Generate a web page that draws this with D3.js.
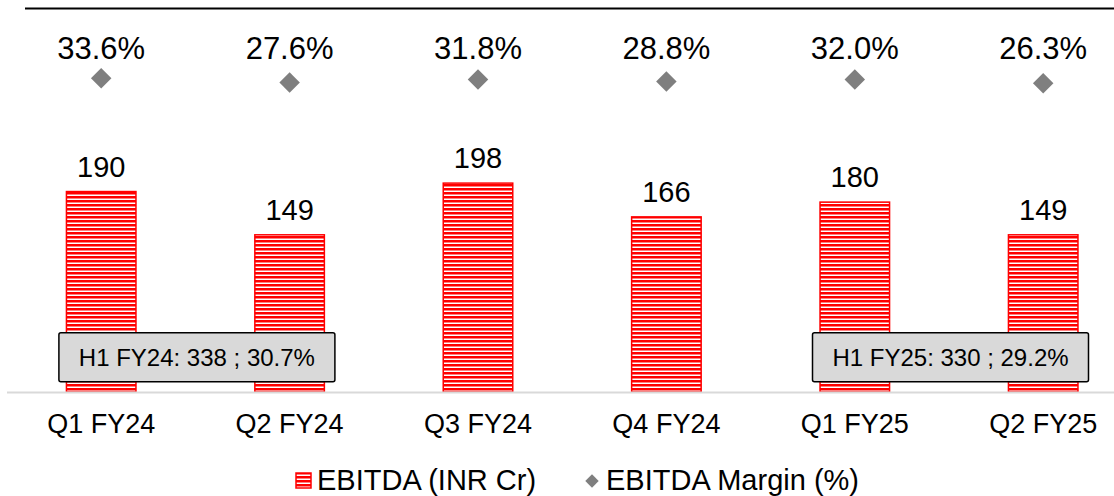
<!DOCTYPE html>
<html>
<head>
<meta charset="utf-8">
<script src="https://cdn.jsdelivr.net/npm/d3@7/dist/d3.min.js"></script>
<style>
  html, body { margin: 0; padding: 0; background: #fff; }
  svg { display: block; font-family: "Liberation Sans", Arial, sans-serif; }
</style>
</head>
<body>
<svg id="chart" width="1114" height="496"></svg>
<script>
// ---- data ----
const categories = ["Q1 FY24", "Q2 FY24", "Q3 FY24", "Q4 FY24", "Q1 FY25", "Q2 FY25"];
const ebitda = [190, 149, 198, 166, 180, 149];
const margin = [33.6, 27.6, 31.8, 28.8, 32.0, 26.3];
const marginLabels = ["33.6%", "27.6%", "31.8%", "28.8%", "32.0%", "26.3%"];
const callouts = [
  { text: "H1 FY24: 338 ; 30.7%", from: "Q1 FY24", to: "Q2 FY24" },
  { text: "H1 FY25: 330 ; 29.2%", from: "Q1 FY25", to: "Q2 FY25" }
];
const legendItems = ["EBITDA (INR Cr)", "EBITDA Margin (%)"];

// ---- setup ----
const svg = d3.select("#chart");
const W = 1114, H = 496;
const RED = "#ff0000", GRAY = "#7f7f7f";

const x = d3.scaleBand().domain(categories).range([7, 1137.4])
  .paddingInner(0.623).paddingOuter(0.3115);
const y = d3.scaleLinear().domain([0, 200]).range([392, 181]);
const y2 = d3.scaleLinear().domain([26.3, 33.6]).range([83.3, 78.3]);
const cx = c => x(c) + x.bandwidth() / 2;

// pattern
const defs = svg.append("defs");
const pat = defs.append("pattern").attr("id", "stripes")
  .attr("patternUnits", "userSpaceOnUse").attr("width", 8).attr("height", 4);
pat.append("rect").attr("width", 8).attr("height", 4).attr("fill", "#fff");
pat.append("rect").attr("y", 0).attr("width", 8).attr("height", 2.5).attr("fill", RED);

// top rule
svg.append("line").attr("x1", 25).attr("x2", W).attr("y1", 8.5).attr("y2", 8.5)
  .attr("stroke", "#000").attr("stroke-width", 2);

// bars
svg.append("g").selectAll("rect").data(ebitda).join("rect")
  .attr("x", (d, i) => x(categories[i]) + 0.75)
  .attr("y", d => y(d))
  .attr("width", x.bandwidth() - 1.5)
  .attr("height", d => y(0) - y(d))
  .attr("fill", "url(#stripes)")
  .attr("stroke", RED).attr("stroke-width", 1.5);

// axis
const ax = svg.append("g").attr("transform", `translate(0,${y(0)})`)
  .call(d3.axisBottom(x).tickSize(0).tickPadding(22));
ax.select(".domain").remove();
ax.append("line").attr("x1", 7).attr("x2", W).attr("y1", 0.5).attr("y2", 0.5)
  .attr("stroke", "#d9d9d9").attr("stroke-width", 2);
ax.selectAll("text").attr("font-size", 27).attr("fill", "#000")
  .attr("font-family", "Liberation Sans, Arial, sans-serif");

// value labels
svg.append("g").selectAll("text").data(ebitda).join("text")
  .attr("x", (d, i) => cx(categories[i]))
  .attr("y", d => y(d) - 15)
  .attr("text-anchor", "middle").attr("font-size", 29).attr("fill", "#000")
  .text(d => d);

// margin diamonds
const sq = d3.symbol().type(d3.symbolSquare).size(210);
svg.append("g").selectAll("path").data(margin).join("path")
  .attr("d", sq)
  .attr("transform", (d, i) => `translate(${cx(categories[i])},${y2(d)}) rotate(45)`)
  .attr("fill", GRAY);

// margin labels
svg.append("g").selectAll("text").data(marginLabels).join("text")
  .attr("x", (d, i) => cx(categories[i]))
  .attr("y", 59)
  .attr("text-anchor", "middle").attr("font-size", 31).attr("fill", "#000")
  .text(d => d);

// callouts
const cw = 276, ch = 49;
callouts.forEach(c => {
  const mx = (cx(c.from) + cx(c.to)) / 2 + 1.5;
  const my = y(33);
  const g = svg.append("g");
  g.append("rect").attr("x", mx - cw / 2).attr("y", my - ch / 2)
    .attr("width", cw).attr("height", ch).attr("rx", 2)
    .attr("fill", "#d9d9d9").attr("stroke", "#000").attr("stroke-width", 1.5);
  g.append("text").attr("x", mx).attr("y", my + 8.5)
    .attr("text-anchor", "middle").attr("font-size", 24).attr("fill", "#000")
    .text(c.text);
});

// legend
const lg = svg.append("g");
lg.append("rect").attr("x", 296).attr("y", 473).attr("width", 15).attr("height", 15)
  .attr("fill", "url(#stripes)").attr("stroke", RED).attr("stroke-width", 1.5);
lg.append("text").attr("x", 317).attr("y", 490).attr("font-size", 29).attr("fill", "#000")
  .text(legendItems[0]);
lg.append("path").attr("d", d3.symbol().type(d3.symbolSquare).size(90))
  .attr("transform", "translate(592,481) rotate(45)").attr("fill", GRAY);
lg.append("text").attr("x", 606).attr("y", 490).attr("font-size", 29).attr("fill", "#000")
  .text(legendItems[1]);
</script>
</body>
</html>
